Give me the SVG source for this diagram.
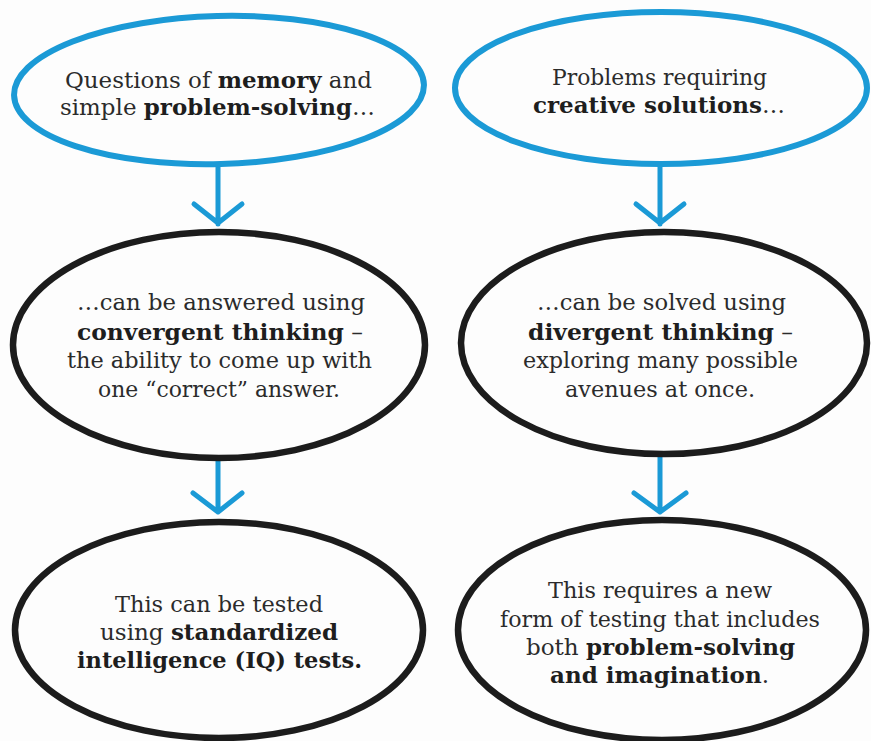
<svg xmlns="http://www.w3.org/2000/svg" width="871" height="741" viewBox="0 0 871 741">
<style>
.blue{fill:none;stroke:#1b9ad6;stroke-width:6;stroke-linecap:round;stroke-linejoin:round}
.black{fill:none;stroke:#1c1c1c;stroke-width:6.5}
.conn{fill:none;stroke:#1b9ad6;stroke-width:5;stroke-linecap:round;stroke-linejoin:round}
text{font-family:"DejaVu Serif","Liberation Serif",serif;font-size:23px;fill:#2b2b2b;text-anchor:middle}
.b{font-weight:bold;fill:#1e1e1e}
</style>
<rect width="871" height="741" fill="#fdfdfd"/>
<g id="connectors">
<path class="conn" d="M218 166V224M194 204L218 223L242 204"/>
<path class="conn" d="M218 458V512M193 493L218 512L242 493"/>
<path class="conn" d="M660 166V224M636 204L660 223L684 204"/>
<path class="conn" d="M660 455V512M634 493L660 512L686 493"/>
</g>
<g id="n1">
<ellipse class="blue" cx="219" cy="90" rx="205" ry="74" transform="rotate(-1.5 219 90)"/>
<text x="218.5" y="88" textLength="307" lengthAdjust="spacingAndGlyphs">Questions of <tspan class="b">memory</tspan> and</text>
<text x="217.5" y="115" textLength="315" lengthAdjust="spacingAndGlyphs">simple <tspan class="b">problem-solving</tspan>…</text>
</g>
<g id="n2">
<ellipse class="blue" cx="661" cy="88" rx="206" ry="76"/>
<text x="659.5" y="85" textLength="215" lengthAdjust="spacingAndGlyphs">Problems requiring</text>
<text x="659" y="113" textLength="252" lengthAdjust="spacingAndGlyphs"><tspan class="b">creative solutions</tspan>…</text>
</g>
<g id="n3">
<ellipse class="black" cx="219" cy="345" rx="206" ry="113"/>
<text x="221" y="310" textLength="288" lengthAdjust="spacingAndGlyphs">…can be answered using</text>
<text x="220" y="340" textLength="286" lengthAdjust="spacingAndGlyphs"><tspan class="b">convergent thinking</tspan> –</text>
<text x="219.5" y="368" textLength="305" lengthAdjust="spacingAndGlyphs">the ability to come up with</text>
<text x="219" y="397" textLength="242" lengthAdjust="spacingAndGlyphs">one “correct” answer.</text>
</g>
<g id="n4">
<ellipse class="black" cx="664" cy="343" rx="203" ry="111"/>
<text x="661.5" y="310" textLength="249" lengthAdjust="spacingAndGlyphs">…can be solved using</text>
<text x="660.5" y="340" textLength="265" lengthAdjust="spacingAndGlyphs"><tspan class="b">divergent thinking</tspan> –</text>
<text x="660.5" y="368" textLength="275" lengthAdjust="spacingAndGlyphs">exploring many possible</text>
<text x="660" y="397" textLength="190" lengthAdjust="spacingAndGlyphs">avenues at once.</text>
</g>
<g id="n5">
<ellipse class="black" cx="219" cy="630" rx="204" ry="108"/>
<text x="219" y="612" textLength="208" lengthAdjust="spacingAndGlyphs">This can be tested</text>
<text x="219" y="640" textLength="238" lengthAdjust="spacingAndGlyphs">using <tspan class="b">standardized</tspan></text>
<text x="219.5" y="668" textLength="285" lengthAdjust="spacingAndGlyphs"><tspan class="b">intelligence (IQ) tests.</tspan></text>
</g>
<g id="n6">
<ellipse class="black" cx="662" cy="630" rx="204" ry="110"/>
<text x="660" y="598" textLength="224" lengthAdjust="spacingAndGlyphs">This requires a new</text>
<text x="660" y="627" textLength="320" lengthAdjust="spacingAndGlyphs">form of testing that includes</text>
<text x="660.5" y="655" textLength="269" lengthAdjust="spacingAndGlyphs">both <tspan class="b">problem-solving</tspan></text>
<text x="659.5" y="683"><tspan class="b">and imagination</tspan>.</text>
</g>
</svg>
